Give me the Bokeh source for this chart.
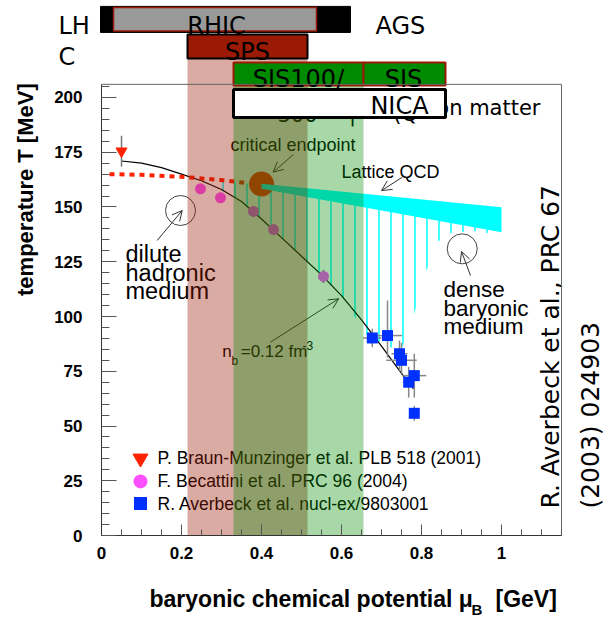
from math import pi

from bokeh.core.properties import value
from bokeh.embed import file_html
from bokeh.models import Arrow, FixedTicker, NumeralTickFormatter, OpenHead, Range1d
from bokeh.plotting import figure
from bokeh.resources import INLINE

# ---------------------------------------------------------------- data
# chemical freeze-out points, mu_B in GeV, T in MeV
bm_mu = [0.05]                       # P. Braun-Munzinger et al.
bm_T = [175.5]
bm_T_err = [7.0]

bec_mu = [0.2475, 0.2975, 0.38, 0.43, 0.555]    # F. Becattini et al.
bec_T = [158.3, 154.2, 148.0, 139.7, 118.3]
bec_T_err = [0.0, 0.0, 2.5, 2.5, 3.0]
bec_mu_err = [0.0, 0.0, 0.0, 0.0, 0.012]

av_mu = [0.677, 0.715, 0.745, 0.75, 0.768, 0.782, 0.782]   # R. Averbeck et al.
av_T = [90.2, 91.3, 83.0, 80.0, 70.0, 73.0, 55.8]
av_mu_err = [0.023, 0.036, 0.02, 0.038, 0.015, 0.03, 0.0]
av_T_lo = [4.2, 10.0, 8.0, 6.0, 7.0, 10.0, 3.4]
av_T_hi = [4.2, 16.0, 6.0, 8.0, 7.0, 10.0, 3.4]

# line of constant baryon density n_b = 0.12 fm^-3
nb_mu = [0.05, 0.1, 0.15, 0.2, 0.25, 0.3, 0.35, 0.4, 0.45, 0.5, 0.55,
         0.6, 0.65, 0.7, 0.75, 0.78]
nb_T = [171, 170, 168, 165, 162, 158, 152.5, 144.5, 136, 127.5, 119,
        109.5, 98.5, 86.5, 74, 67]

# crossover line (dotted) up to the critical endpoint
co_mu = [0.02, 0.1, 0.2, 0.3, 0.36]
co_T = [165.0, 164.7, 163.8, 162.3, 161.0]

cep_mu = [0.40]
cep_T = [160.5]

# lattice QCD first-order band
lqcd_mu = [0.40, 1.0]
lqcd_T_upper = [160.6, 149.9]
lqcd_T_lower = [158.3, 138.5]

# hatched region below the transition
mixed_mu = [0.29, 0.36, 0.40, 0.97, 0.97, 0.93, 0.87, 0.84, 0.81, 0.78,
            0.75, 0.72, 0.69, 0.66, 0.6, 0.55, 0.5, 0.45, 0.4, 0.35, 0.29]
mixed_T = [162.5, 161.0, 159.0, 139.5, 138.0, 139.0, 138.0, 134.0, 120.0,
           100.0, 85.0, 86.0, 89.0, 92.0, 109.5, 119.0, 127.5, 136.0,
           144.5, 152.5, 158.5]

# mu_B coverage of the accelerator programmes
sps_range = [0.215, 0.515]
sis_range = [0.33, 0.655]
sis_hi_range = [0.655, 0.86]
rhic_range = [0.03, 0.5375]
lhc_range = [-0.0025, 0.6225]

x_ticks = [0, 0.2, 0.4, 0.6, 0.8, 1.0]
x_minor = [i * 0.05 for i in range(24)]
y_ticks = [0, 25, 50, 75, 100, 125, 150, 175, 200]
y_minor = [i * 5 for i in range(42)]

legend_labels = ["P. Braun-Munzinger et al. PLB 518 (2001)",
                 "F. Becattini et al. PRC 96 (2004)",
                 "R. Averbeck et al. nucl-ex/9803001"]

# ---------------------------------------------------------------- styling
SANS = value("Liberation Sans")
WIDE = value("DejaVu Sans")
RED = "#ff2200"
MAG = "#ff50ff"
BLUE = "#0030ff"
DKRED = "#9b1a05"
GREEN = "#008a00"
T_TOP = 206.0
MU_MAX = 1.15

# the frame fills the whole canvas; the axes sit at mu_B = 0 and T = 0
p = figure(width=615, height=620, x_range=Range1d(-0.2525, 1.285),
           y_range=Range1d(-38.81, 244.29), output_backend="svg",
           toolbar_location=None, min_border=0)
p.outline_line_color = None
p.grid.visible = False
p.background_fill_color = "white"

for ax in (p.xaxis[0], p.yaxis[0]):
    ax.fixed_location = 0
    ax.axis_line_color = "#333333"
    ax.major_tick_line_color = "#555555"
    ax.minor_tick_line_color = "#555555"
    ax.major_tick_out = 0
    ax.minor_tick_out = 0
    ax.major_label_text_font = "Liberation Sans"
    ax.major_label_text_font_style = "bold"
    ax.major_label_text_font_size = "17px"
    ax.major_label_text_color = "black"

p.xaxis.bounds = (0, MU_MAX)
p.xaxis.ticker = FixedTicker(ticks=x_ticks, minor_ticks=x_minor)
p.xaxis.formatter = NumeralTickFormatter(format="0.[0]")
p.xaxis.major_tick_in = 11
p.xaxis.minor_tick_in = 6
p.xaxis.major_label_standoff = 11

p.yaxis.bounds = (0, T_TOP)
p.yaxis.ticker = FixedTicker(ticks=y_ticks, minor_ticks=y_minor)
p.yaxis.major_tick_in = 15
p.yaxis.minor_tick_in = 8
p.yaxis.major_label_standoff = 19

# hatched region
p.patch(mixed_mu, mixed_T, fill_alpha=0, line_alpha=0,
        hatch_pattern="vertical_line", hatch_color="cyan",
        hatch_weight=1.5, hatch_scale=12)

# n_b line and crossover line
p.line(nb_mu, nb_T, line_color="black", line_width=1.2)
p.line(co_mu, co_T, line_color=RED, line_width=4, line_dash="5 5")

# critical endpoint and lattice band
p.scatter(cep_mu, cep_T, size=25, marker="circle", fill_color="#ff2800",
          line_color=None)
p.varea(x=lqcd_mu, y1=lqcd_T_lower, y2=lqcd_T_upper, fill_color="cyan")

# error bars
p.segment(bm_mu, [t - e for t, e in zip(bm_T, bm_T_err)],
          bm_mu, [t + e for t, e in zip(bm_T, bm_T_err)],
          line_color="#777777", line_width=1.5)
p.segment(bec_mu, [t - e for t, e in zip(bec_T, bec_T_err)],
          bec_mu, [t + e for t, e in zip(bec_T, bec_T_err)],
          line_color="#777777", line_width=1.5)
p.segment([m - e for m, e in zip(bec_mu, bec_mu_err)], bec_T,
          [m + e for m, e in zip(bec_mu, bec_mu_err)], bec_T,
          line_color="#777777", line_width=1.5)
p.segment(av_mu, [t - e for t, e in zip(av_T, av_T_lo)],
          av_mu, [t + e for t, e in zip(av_T, av_T_hi)],
          line_color="#888888", line_width=1.5)
p.segment([m - e for m, e in zip(av_mu, av_mu_err)], av_T,
          [m + e for m, e in zip(av_mu, av_mu_err)], av_T,
          line_color="#888888", line_width=1.5)

# data markers
p.scatter(bm_mu, bm_T, marker="inverted_triangle", size=11,
          fill_color=RED, line_color=RED)
p.scatter(bec_mu, bec_T, marker="circle", size=11, fill_color=MAG,
          line_color=None)
p.scatter(av_mu, av_T, marker="square", size=11, fill_color=BLUE,
          line_color=None)

# region markers
p.scatter([0.1975, 0.9018], [148.4, 130.9], marker="circle", size=30,
          fill_color=None, line_color="#444444", line_width=1)

txt = dict(text_font=SANS, text_color="black", text_baseline="middle")
p.text([0.3225], [178.1], text=["critical endpoint"],
       text_font_size="18px", **txt)
p.text([0.60], [166.2], text=["Lattice QCD"], text_font_size="18px", **txt)
line_step = 8.5
p.text([0.06] * 3, [128.5 - i * line_step for i in range(3)],
       text=["dilute", "hadronic", "medium"], text_font_size="23.5px", **txt)
p.text([0.855] * 3, [112.3 - i * line_step for i in range(3)],
       text=["dense", "baryonic", "medium"], text_font_size="22.5px", **txt)
p.text([0.3018], [84.0], text=["n"], text_font_size="17px", **txt)
p.text([0.325], [79.5], text=["b"], text_font_size="12px", **txt)
p.text([0.348], [84.0], text=["=0.12 fm"], text_font_size="17px", **txt)
p.text([0.5025], [86.8], text=["-3"], text_font_size="12px", **txt)

arrow_kw = dict(line_color="#333333", line_width=1, level="underlay")
for xs, ys, xe, ye in [(0.48, 174.0, 0.429, 165.9),
                       (0.752, 163.6, 0.70, 157.5),
                       (0.139, 134.7, 0.2018, 148.4),
                       (0.9225, 118.7, 0.90, 129.7),
                       (0.4225, 88.3, 0.593, 108.1)]:
    p.add_layout(Arrow(end=OpenHead(size=10, line_color="#333333",
                                    line_width=1),
                       x_start=xs, y_start=ys, x_end=xe, y_end=ye, **arrow_kw))

# legend
leg_T = [35.2, 24.7, 14.6]
p.scatter([0.0975], [leg_T[0]], marker="inverted_triangle", size=15,
          fill_color=RED, line_color=RED)
p.scatter([0.0975], [leg_T[1]], marker="circle", size=14, fill_color=MAG,
          line_color=None)
p.scatter([0.0975], [leg_T[2]], marker="square", size=13, fill_color=BLUE,
          line_color=None)
p.text([0.14] * 3, leg_T, text=legend_labels, text_font_size="17.5px", **txt)

# reference, rotated at the right
p.text([1.1225, 1.2225], [12.3, 12.3],
       text=["R. Averbeck et al., PRC 67", "(2003) 024903"],
       angle=pi / 2, text_align="left", text_baseline="middle",
       text_font=WIDE, text_font_size="25px", text_color="black")

# text partly hidden below the NICA box
wide_mid = dict(text_font=WIDE, text_baseline="middle", text_color="black")
p.text([1.0975], [195.4], text=["baryon matter"], text_align="right",
       text_font_size="21px", **wide_mid)
p.text([0.49, 0.6275, 0.76], [192.3, 192.3, 192.3],
       text=["300", "|", "(Q"], text_align="center",
       text_font_size="21px", **wide_mid)

# accelerator mu_B bands
p.quad(left=[sps_range[0]], right=[sps_range[1]], bottom=[0], top=[217.8],
       fill_color=DKRED, fill_alpha=0.37, line_alpha=0)
p.quad(left=[sis_range[0]], right=[sis_range[1]], bottom=[0], top=[205.5],
       fill_color=GREEN, fill_alpha=0.34, line_alpha=0)

# accelerator boxes
p.quad(left=[lhc_range[0]], right=[lhc_range[1]], bottom=[229.7],
       top=[241.6], fill_color="black", line_color="black")
p.quad(left=[rhic_range[0]], right=[rhic_range[1]], bottom=[230.4],
       top=[241.1], fill_color="#999999", line_color=DKRED, line_width=1.5)
p.quad(left=[sps_range[0]], right=[sps_range[1]], bottom=[217.8],
       top=[228.8], fill_color=DKRED, line_color="black", line_width=2)
p.quad(left=[sis_range[0], sis_hi_range[0]],
       right=[sis_range[1], sis_hi_range[1]], bottom=[205.5, 205.5],
       top=[216.0, 216.0], fill_color=GREEN, line_color=DKRED, line_width=2)
p.quad(left=[sis_range[0]], right=[sis_hi_range[1]], bottom=[190.9],
       top=[203.7], fill_color="white", line_color="black", line_width=3)

top_kw = dict(text_font_size="24px", **wide_mid)
p.text([0.2875], [232.6], text=["RHIC"], text_align="center", **top_kw)
p.text([0.685], [232.5], text=["AGS"], text_align="left", **top_kw)
p.text([0.365], [221.0], text=["SPS"], text_align="center", **top_kw)
p.text([0.4925, 0.755], [208.5, 208.5], text=["SIS100/", "SIS"],
       text_align="center", **top_kw)
p.text([0.745], [195.9], text=["NICA"], text_align="center", **top_kw)
p.text([-0.1075, -0.1075], [232.7, 218.5], text=["LH", "C"],
       text_align="left", **top_kw)

# frame lines on top and right
p.line([0, MU_MAX, MU_MAX], [T_TOP, T_TOP, 0], line_color="#666666",
       line_width=1)

# axis titles
bold = dict(text_font=SANS, text_font_style="bold", text_color="black",
            text_baseline="middle")
p.text([-0.191], [206.5], text=["temperature T [MeV]"], angle=pi / 2,
       text_align="right", text_font_size="22px", **bold)
p.text([0.12], [-28.8], text=["baryonic chemical potential \u03bc"],
       text_align="left", text_font_size="23px", **bold)
p.text([0.925], [-33.8], text=["B"], text_align="left",
       text_font_size="15px", **bold)
p.text([0.985], [-28.8], text=["[GeV]"], text_align="left",
       text_font_size="23px", **bold)

open("out.html", "w").write(file_html(p, INLINE))
